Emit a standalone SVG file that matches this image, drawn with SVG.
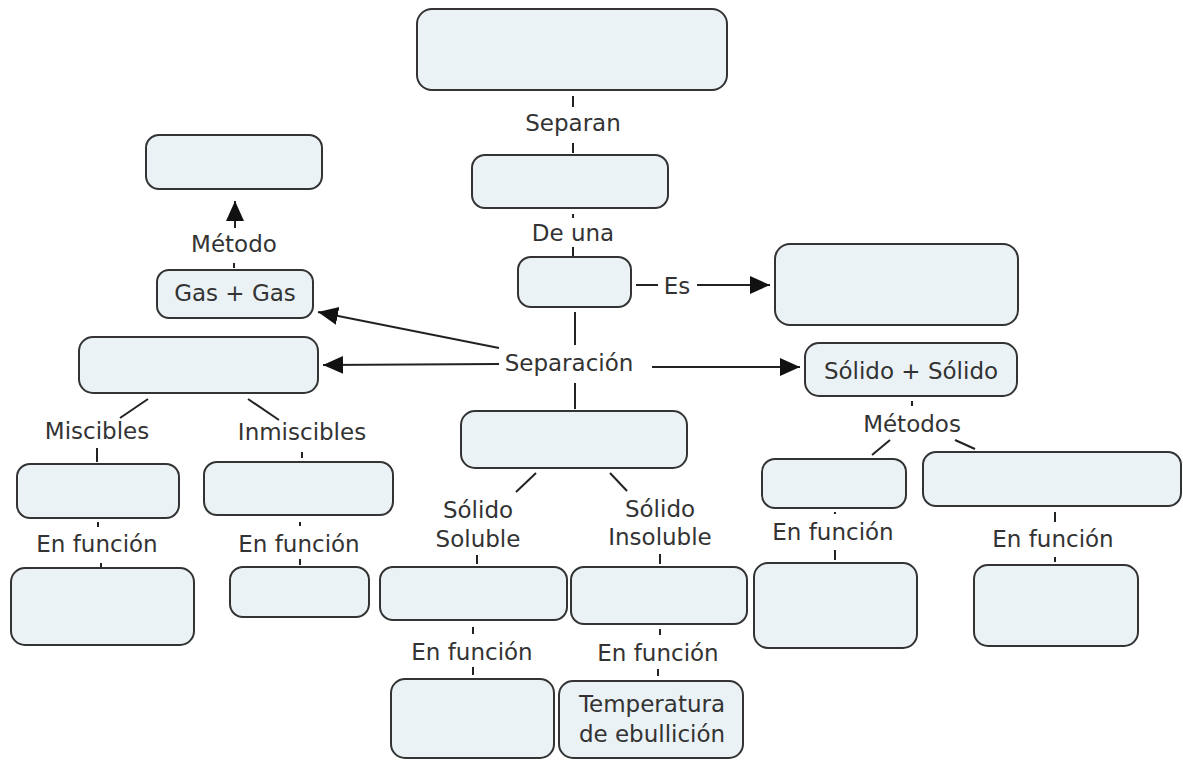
<svg xmlns="http://www.w3.org/2000/svg" width="1183" height="761" viewBox="0 0 1183 761">
  <style>
    .node rect { fill: #eaf2f5; stroke: #333; stroke-width: 2; }
    .node text, .lbl { font-family: "DejaVu Sans", Verdana, sans-serif; font-size: 23px; fill: #333; text-anchor: middle; }
    .conn line { stroke: #222; stroke-width: 2; }
  </style>
  <defs>
    <marker id="arrow" markerUnits="userSpaceOnUse" markerWidth="24" markerHeight="20" refX="20" refY="9" orient="auto">
      <path d="M0,0 L20,9 L0,18 z" fill="#111"/>
    </marker>
  </defs>
  <rect width="1183" height="761" fill="#fff"/>

  <!-- connectors and their labels -->
  <g id="connectors" class="conn">
    <line x1="573" y1="96" x2="573" y2="107"/>
    <line x1="573" y1="143" x2="573" y2="153"/>
    <line x1="573" y1="214" x2="573" y2="218"/>
    <line x1="573" y1="247" x2="573" y2="256"/>
    <line x1="636" y1="285" x2="658" y2="285"/>
    <line x1="697" y1="285" x2="770" y2="285" marker-end="url(#arrow)"/>
    <line x1="575" y1="312" x2="575" y2="345"/>
    <line x1="575" y1="383" x2="575" y2="409"/>
    <line x1="499" y1="348" x2="318" y2="312" marker-end="url(#arrow)"/>
    <line x1="499" y1="364" x2="323" y2="365" marker-end="url(#arrow)"/>
    <line x1="652" y1="367" x2="800" y2="367" marker-end="url(#arrow)"/>
    <line x1="234" y1="263" x2="234" y2="268"/>
    <line x1="235" y1="228" x2="235" y2="201" marker-end="url(#arrow)"/>
    <!-- left branch -->
    <line x1="148" y1="399" x2="120" y2="418"/>
    <line x1="248" y1="399" x2="279" y2="420"/>
    <line x1="97" y1="448" x2="97" y2="462"/>
    <line x1="302" y1="452" x2="302" y2="458"/>
    <line x1="98" y1="522" x2="98" y2="527"/>
    <line x1="101" y1="563" x2="101" y2="567"/>
    <line x1="300" y1="522" x2="300" y2="526"/>
    <line x1="300" y1="559" x2="300" y2="565"/>
    <!-- centre branch -->
    <line x1="536" y1="473" x2="516" y2="492"/>
    <line x1="610" y1="473" x2="627" y2="491"/>
    <line x1="477" y1="555" x2="477" y2="564"/>
    <line x1="660" y1="554" x2="660" y2="564"/>
    <line x1="473" y1="627" x2="473" y2="634"/>
    <line x1="473" y1="667" x2="473" y2="675"/>
    <line x1="660" y1="629" x2="660" y2="635"/>
    <line x1="658" y1="669" x2="658" y2="676"/>
    <!-- right branch -->
    <line x1="912" y1="401" x2="912" y2="406"/>
    <line x1="890" y1="440" x2="872" y2="455"/>
    <line x1="955" y1="440" x2="975" y2="449"/>
    <line x1="835" y1="512" x2="835" y2="514"/>
    <line x1="835" y1="550" x2="835" y2="560"/>
    <line x1="1055" y1="512" x2="1055" y2="522"/>
    <line x1="1055" y1="557" x2="1055" y2="562"/>

    <text class="lbl" x="573" y="131">Separan</text>
    <text class="lbl" x="573" y="241">De una</text>
    <text class="lbl" x="677" y="294">Es</text>
    <text class="lbl" x="569" y="371">Separación</text>
    <text class="lbl" x="234" y="252">Método</text>
    <text class="lbl" x="97" y="439">Miscibles</text>
    <text class="lbl" x="302" y="440">Inmiscibles</text>
    <text class="lbl" x="97" y="552">En función</text>
    <text class="lbl" x="299" y="552">En función</text>
    <text class="lbl" x="478" y="518">Sólido</text>
    <text class="lbl" x="478" y="547">Soluble</text>
    <text class="lbl" x="660" y="517">Sólido</text>
    <text class="lbl" x="660" y="545">Insoluble</text>
    <text class="lbl" x="472" y="660">En función</text>
    <text class="lbl" x="658" y="661">En función</text>
    <text class="lbl" x="912" y="432">Métodos</text>
    <text class="lbl" x="833" y="540">En función</text>
    <text class="lbl" x="1053" y="547">En función</text>
  </g>

  <!-- concept nodes -->
  <g id="n-top" class="node"><rect x="417" y="9" width="310" height="81" rx="15"/></g>
  <g id="n-mezcla" class="node"><rect x="472" y="155" width="196" height="53" rx="13"/></g>
  <g id="n-fase" class="node"><rect x="518" y="257" width="113" height="50" rx="13"/></g>
  <g id="n-es" class="node"><rect x="775" y="244" width="243" height="81" rx="15"/></g>
  <g id="n-metodo-gas" class="node"><rect x="146" y="135" width="176" height="54" rx="13"/></g>
  <g id="n-gas" class="node"><rect x="157" y="270" width="156" height="48" rx="12"/><text x="235" y="301">Gas + Gas</text></g>
  <g id="n-liquido" class="node"><rect x="79" y="337" width="239" height="56" rx="14"/></g>
  <g id="n-miscibles" class="node"><rect x="17" y="464" width="162" height="54" rx="13"/></g>
  <g id="n-inmiscibles" class="node"><rect x="204" y="462" width="189" height="53" rx="13"/></g>
  <g id="n-miscibles-f" class="node"><rect x="11" y="568" width="183" height="77" rx="14"/></g>
  <g id="n-inmiscibles-f" class="node"><rect x="230" y="567" width="139" height="50" rx="13"/></g>
  <g id="n-solido-liq" class="node"><rect x="461" y="411" width="226" height="57" rx="14"/></g>
  <g id="n-soluble" class="node"><rect x="380" y="567" width="187" height="53" rx="13"/></g>
  <g id="n-insoluble" class="node"><rect x="571" y="567" width="176" height="57" rx="13"/></g>
  <g id="n-soluble-f" class="node"><rect x="391" y="679" width="163" height="79" rx="14"/></g>
  <g id="n-temp" class="node"><rect x="559" y="681" width="184" height="77" rx="14"/><text x="652" y="712">Temperatura</text><text x="652" y="742">de ebullición</text></g>
  <g id="n-solidos" class="node"><rect x="805" y="343" width="212" height="53" rx="14"/><text x="911" y="379">Sólido + Sólido</text></g>
  <g id="n-met1" class="node"><rect x="762" y="459" width="144" height="49" rx="13"/></g>
  <g id="n-met2" class="node"><rect x="923" y="452" width="258" height="54" rx="13"/></g>
  <g id="n-met1-f" class="node"><rect x="754" y="563" width="163" height="85" rx="14"/></g>
  <g id="n-met2-f" class="node"><rect x="974" y="565" width="164" height="81" rx="14"/></g>
</svg>
